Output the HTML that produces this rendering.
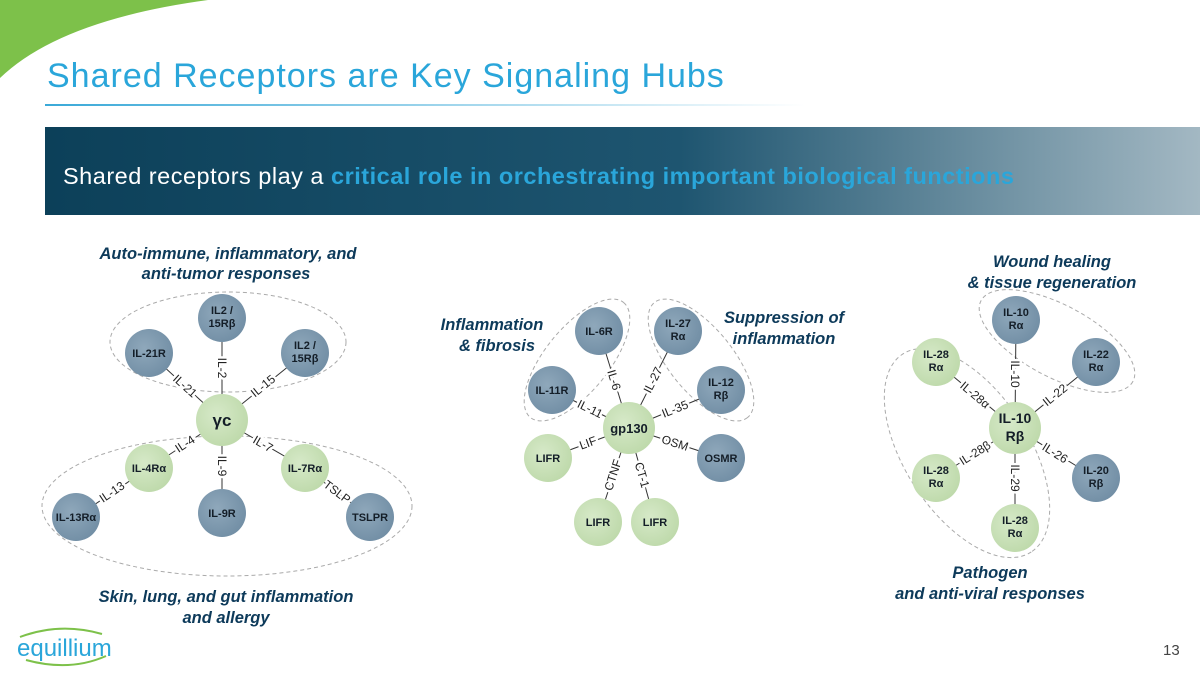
<!DOCTYPE html>
<html><head><meta charset="utf-8"><style>
html,body{margin:0;padding:0;background:#fff;}
body{width:1200px;height:675px;overflow:hidden;position:relative;font-family:"Liberation Sans",sans-serif;}
svg{position:absolute;left:0;top:0;}
</style></head><body>
<svg width="1200" height="675" viewBox="0 0 1200 675" xmlns="http://www.w3.org/2000/svg">
<defs>
<linearGradient id="ban" x1="0" x2="1" y1="0" y2="0"><stop offset="0" stop-color="#0c4059"/><stop offset="0.55" stop-color="#1e5570"/><stop offset="1" stop-color="#a3b8c3"/></linearGradient>
<linearGradient id="ln" x1="0" x2="1"><stop offset="0" stop-color="#3aa9d8"/><stop offset="0.7" stop-color="#bfe3f2"/><stop offset="1" stop-color="#fff"/></linearGradient>
<radialGradient id="bl" cx="0.4" cy="0.4" r="0.7"><stop offset="0" stop-color="#8fa8bb"/><stop offset="1" stop-color="#6f8ca3"/></radialGradient>
<radialGradient id="gr" cx="0.4" cy="0.4" r="0.7"><stop offset="0" stop-color="#d6e9c8"/><stop offset="1" stop-color="#bcd8a8"/></radialGradient>
</defs>
<path d="M0,0 L208,0 Q60,20 0,78 Z" fill="#7dc14a"/>
<text x="47" y="87" font-size="34" letter-spacing="1" fill="#2aa6da" font-family="Liberation Sans,sans-serif">Shared Receptors are Key Signaling Hubs</text>
<rect x="45" y="104" width="760" height="2" fill="url(#ln)"/>
<rect x="45" y="127" width="1155" height="88" fill="url(#ban)"/>
<text x="63" y="184" font-size="23.5" letter-spacing="0.5" fill="#fff">Shared receptors play a <tspan fill="#2aa6da" font-weight="bold">critical role in orchestrating important  biological functions</tspan></text>

<g font-style="italic" font-weight="bold" font-size="16.5" fill="#0d3a5a" text-anchor="middle">
<text x="228" y="259">Auto-immune, inflammatory, and</text>
<text x="226" y="279">anti-tumor responses</text>
<text x="492" y="330">Inflammation</text>
<text x="497" y="351">&amp; fibrosis</text>
<text x="784" y="323">Suppression of</text>
<text x="784" y="344">inflammation</text>
<text x="1052" y="267">Wound healing</text>
<text x="1052" y="288">&amp; tissue regeneration</text>
<text x="226" y="602">Skin, lung, and gut inflammation</text>
<text x="226" y="623">and allergy</text>
<text x="990" y="578">Pathogen</text>
<text x="990" y="599">and anti-viral responses</text>
</g>

<g fill="none" stroke="#aaa" stroke-width="1" stroke-dasharray="4,3">
<ellipse cx="228" cy="342" rx="118" ry="50"/>
<ellipse cx="227" cy="506" rx="185" ry="70"/>
<ellipse cx="0" cy="0" rx="74" ry="32" transform="translate(577,360) rotate(-51)"/>
<ellipse cx="0" cy="0" rx="74" ry="32" transform="translate(701,360) rotate(51)"/>
<ellipse cx="0" cy="0" rx="86" ry="36" transform="translate(1057,341) rotate(28)"/>
<ellipse cx="0" cy="0" rx="118" ry="62" transform="translate(967,453) rotate(57)"/>
</g>

<g stroke="#333" stroke-width="1">
<line x1="222" y1="420" x2="222" y2="318"/><line x1="222" y1="420" x2="149" y2="353"/><line x1="222" y1="420" x2="305" y2="353"/>
<line x1="222" y1="420" x2="149" y2="468"/><line x1="222" y1="420" x2="222" y2="513"/><line x1="222" y1="420" x2="305" y2="468"/>
<line x1="149" y1="468" x2="76" y2="517"/><line x1="305" y1="468" x2="370" y2="517"/>
<line x1="629" y1="428" x2="599" y2="331"/><line x1="629" y1="428" x2="678" y2="331"/><line x1="629" y1="428" x2="552" y2="390"/>
<line x1="629" y1="428" x2="721" y2="390"/><line x1="629" y1="428" x2="548" y2="458"/><line x1="629" y1="428" x2="721" y2="458"/>
<line x1="629" y1="428" x2="598" y2="522"/><line x1="629" y1="428" x2="655" y2="522"/>
<line x1="1015" y1="428" x2="1016" y2="320"/><line x1="1015" y1="428" x2="1096" y2="362"/><line x1="1015" y1="428" x2="936" y2="362"/>
<line x1="1015" y1="428" x2="936" y2="478"/><line x1="1015" y1="428" x2="1096" y2="478"/><line x1="1015" y1="428" x2="1015" y2="528"/>
</g>

<g font-size="12" fill="#222" text-anchor="middle" stroke="#fff" stroke-width="5" paint-order="stroke" dominant-baseline="central">
<text transform="translate(222,368) rotate(90)">IL-2</text>
<text transform="translate(185,386) rotate(42)">IL-21</text>
<text transform="translate(263,386) rotate(-39)">IL-15</text>
<text transform="translate(185,444) rotate(-33)">IL-4</text>
<text transform="translate(222,466) rotate(90)">IL-9</text>
<text transform="translate(263,444) rotate(30)">IL-7</text>
<text transform="translate(112,492) rotate(-34)">IL-13</text>
<text transform="translate(337,492) rotate(37)">TSLP</text>
<text transform="translate(614,380) rotate(73)">IL-6</text>
<text transform="translate(653,380) rotate(-63)">IL-27</text>
<text transform="translate(590,409) rotate(26)">IL-11</text>
<text transform="translate(675,409) rotate(-22)">IL-35</text>
<text transform="translate(588,443) rotate(-20)">LIF</text>
<text transform="translate(675,443) rotate(18)">OSM</text>
<text transform="translate(613,475) rotate(-72)">CTNF</text>
<text transform="translate(642,475) rotate(74)">CT-1</text>
<text transform="translate(1015,374) rotate(90)">IL-10</text>
<text transform="translate(1055,395) rotate(-39)">IL-22</text>
<text transform="translate(975,395) rotate(40)">IL-28α</text>
<text transform="translate(975,453) rotate(-32)">IL-28β</text>
<text transform="translate(1055,453) rotate(32)">IL-26</text>
<text transform="translate(1015,478) rotate(90)">IL-29</text>
</g>

<g>
<circle cx="222" cy="318" r="24" fill="url(#bl)"/><circle cx="149" cy="353" r="24" fill="url(#bl)"/><circle cx="305" cy="353" r="24" fill="url(#bl)"/>
<circle cx="222" cy="420" r="26" fill="url(#gr)"/>
<circle cx="149" cy="468" r="24" fill="url(#gr)"/><circle cx="305" cy="468" r="24" fill="url(#gr)"/>
<circle cx="222" cy="513" r="24" fill="url(#bl)"/><circle cx="76" cy="517" r="24" fill="url(#bl)"/><circle cx="370" cy="517" r="24" fill="url(#bl)"/>
<circle cx="599" cy="331" r="24" fill="url(#bl)"/><circle cx="678" cy="331" r="24" fill="url(#bl)"/>
<circle cx="552" cy="390" r="24" fill="url(#bl)"/><circle cx="721" cy="390" r="24" fill="url(#bl)"/>
<circle cx="629" cy="428" r="26" fill="url(#gr)"/>
<circle cx="548" cy="458" r="24" fill="url(#gr)"/><circle cx="721" cy="458" r="24" fill="url(#bl)"/>
<circle cx="598" cy="522" r="24" fill="url(#gr)"/><circle cx="655" cy="522" r="24" fill="url(#gr)"/>
<circle cx="1016" cy="320" r="24" fill="url(#bl)"/><circle cx="1096" cy="362" r="24" fill="url(#bl)"/>
<circle cx="936" cy="362" r="24" fill="url(#gr)"/><circle cx="1015" cy="428" r="26" fill="url(#gr)"/>
<circle cx="936" cy="478" r="24" fill="url(#gr)"/><circle cx="1096" cy="478" r="24" fill="url(#bl)"/>
<circle cx="1015" cy="528" r="24" fill="url(#gr)"/>
</g>

<g font-size="11" font-weight="bold" fill="#141e28" text-anchor="middle">
<text x="222" y="314">IL2 /</text><text x="222" y="327">15Rβ</text>
<text x="149" y="357">IL-21R</text>
<text x="305" y="349">IL2 /</text><text x="305" y="362">15Rβ</text>
<text x="222" y="426" font-size="17">γc</text>
<text x="149" y="472">IL-4Rα</text><text x="305" y="472">IL-7Rα</text>
<text x="222" y="517">IL-9R</text><text x="76" y="521">IL-13Rα</text><text x="370" y="521">TSLPR</text>
<text x="599" y="335">IL-6R</text>
<text x="678" y="327">IL-27</text><text x="678" y="340">Rα</text>
<text x="552" y="394">IL-11R</text>
<text x="721" y="386">IL-12</text><text x="721" y="399">Rβ</text>
<text x="629" y="433" font-size="13">gp130</text>
<text x="548" y="462">LIFR</text><text x="721" y="462">OSMR</text>
<text x="598" y="526">LIFR</text><text x="655" y="526">LIFR</text>
<text x="1016" y="316">IL-10</text><text x="1016" y="329">Rα</text>
<text x="1096" y="358">IL-22</text><text x="1096" y="371">Rα</text>
<text x="936" y="358">IL-28</text><text x="936" y="371">Rα</text>
<text x="1015" y="423" font-size="14">IL-10</text><text x="1015" y="441" font-size="14">Rβ</text>
<text x="936" y="474">IL-28</text><text x="936" y="487">Rα</text>
<text x="1096" y="474">IL-20</text><text x="1096" y="487">Rβ</text>
<text x="1015" y="524">IL-28</text><text x="1015" y="537">Rα</text>
</g>

<path d="M20,637 Q60,622 102,634" fill="none" stroke="#7dc14a" stroke-width="2"/>
<path d="M26,660 Q70,672 106,656" fill="none" stroke="#7dc14a" stroke-width="2"/>
<text x="17" y="656" font-size="24" fill="#2aa6da">equillium</text>
<text x="1163" y="655" font-size="15" fill="#444">13</text>
</svg>
</body></html>
